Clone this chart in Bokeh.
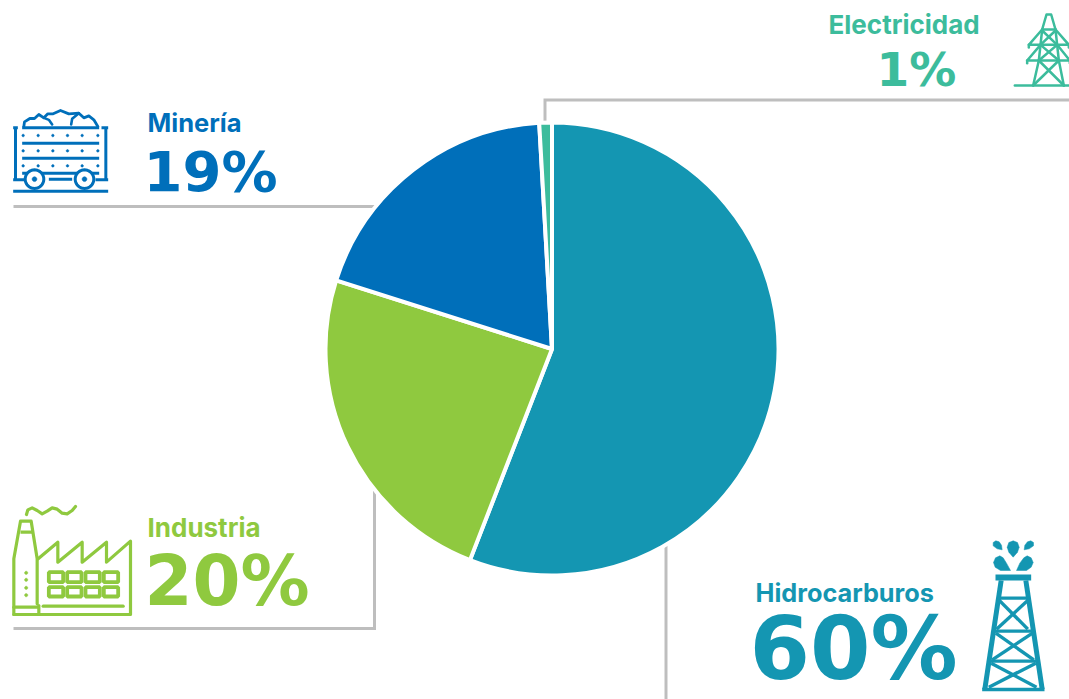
import math
from bokeh.plotting import figure
from bokeh.embed import file_html
from bokeh.resources import INLINE
from bokeh.core.properties import value
from bokeh.models import ColumnDataSource

W, H = 1069, 699

# Wedge sizes as drawn in the picture (the printed labels differ from the drawn slices)
sectors = ["Hidrocarburos", "Industria", "Minería", "Electricidad"]
drawn_share = [55.9, 24.0, 19.2, 0.9]
labels = ["60%", "20%", "19%", "1%"]
colors = ["#1496B2", "#8FC93F", "#006FBA", "#3CBC9C"]
GRAY = "#BEBEBE"
HYD, IND, MIN, ELE = colors

p = figure(width=W, height=H, x_range=(0, W), y_range=(H, 0), output_backend="svg",
           toolbar_location=None, min_border=0, outline_line_color=None)
p.axis.visible = False
p.grid.visible = False
p.background_fill_color = "white"
p.border_fill_color = "white"

# Pie: clockwise from twelve o'clock
CX, CY, R = 551.5, 348.5, 226.5
total = sum(drawn_share)
cum = 0.0
starts, ends = [], []
for v in drawn_share:
    starts.append(math.pi / 2 - 2 * math.pi * cum / total)
    cum += v
    ends.append(math.pi / 2 - 2 * math.pi * cum / total)

# Leader lines
def line(pts, color=GRAY, w=3.0, cap="butt", join="miter"):
    p.line([a for a, _ in pts], [b for _, b in pts], line_color=color, line_width=w,
           line_cap=cap, line_join=join)

line([(1069, 99.5), (544.5, 99.5), (544.5, 128)])
line([(13, 206), (378, 206)])
line([(374, 490), (374, 628), (13, 628)])
line([(665.5, 540), (665.5, 699)])

src = ColumnDataSource(dict(x=[CX] * 4, y=[CY] * 4, s=starts, e=ends, c=colors))
p.wedge(x="x", y="y", radius=R, start_angle="s", end_angle="e", direction="clock",
        fill_color="c", line_color="white", line_width=4, source=src)

# Labels
def text(x, y, s, size, color, font="Inter", k=0.39):
    p.text([x], [y - k * size], text=[s], text_font=value(font), text_font_style="bold",
           text_font_size=f"{size}px", text_color=color, text_align="left",
           text_baseline="alphabetic")

text(147, 132, "Minería", 25.5, MIN)
text(147, 537, "Industria", 26, IND)
text(755, 602, "Hidrocarburos", 25.3, HYD)
text(828, 34, "Electricidad", 26, ELE)
NUM = "DejaVu Sans"
text(143, 193, labels[2], 56, MIN, NUM)
text(144, 607, labels[1], 69, IND, NUM)
text(749, 682, labels[0], 87, HYD, NUM)
text(876, 87, labels[3], 47, ELE, NUM)

# ---- Icons: decoration traced in page pixels ----
def z(pts, ox, oy):
    return [(ox + a / 3, oy + b / 3) for a, b in pts]

def circle(x, y, r, fill, color, w=2.0):
    t = [2 * math.pi * i / 40 for i in range(41)]
    p.patch([x + r * math.cos(a) for a in t], [y + r * math.sin(a) for a in t],
            fill_color=fill, line_color=color, line_width=w)

# Mine cart
ox, oy = 0, 90
for seg in [[(38, 302), (323, 302)], [(45, 110), (45, 268)], [(38, 112), (52, 112)], [(38, 268), (72, 268)],
            [(316, 110), (316, 268)], [(303, 112), (323, 112)], [(285, 268), (323, 268)],
            [(65, 112), (296, 112)], [(65, 158), (296, 158)], [(65, 203), (296, 203)],
            [(65, 248), (85, 248)], [(120, 248), (235, 248)], [(270, 248), (296, 248)],
            [(145, 266), (215, 266)]]:
    line(z(seg, ox, oy), MIN, 3.0)
line(z([(70, 108), (72, 94), (88, 84), (102, 84), (115, 72), (130, 82), (142, 70), (158, 70), (180, 60),
        (205, 70), (235, 68), (250, 82), (265, 76), (280, 88), (292, 108)], ox, oy), MIN, 2.8, "round", "round")
line(z([(130, 82), (145, 88), (155, 102)], ox, oy), MIN, 2.6, "round", "round")
line(z([(235, 68), (215, 85), (212, 102)], ox, oy), MIN, 2.6, "round", "round")
for yy in (135, 181, 226):
    for xx in (68, 113, 157, 201, 245, 292):
        (a, b), = z([(xx, yy)], ox, oy)
        circle(a, b, 1.3, MIN, MIN, 0.5)
for xx in (102, 252):
    (a, b), = z([(xx, 266)], ox, oy)
    circle(a, b, 9.3, "white", MIN, 3.0)
    circle(a, b, 2.4, MIN, MIN, 0.5)

# Factory
ox, oy = 0, 490
line(z([(40, 372), (390, 372), (390, 152), (318, 215), (318, 155), (245, 215), (245, 155), (172, 215),
        (172, 155), (113, 205)], ox, oy), IND, 3.2, "round", "round")
line(z([(110, 340), (110, 205), (92, 92), (60, 92), (40, 205), (40, 372)], ox, oy), IND, 3.2, "round", "round")
line(z([(60, 125), (97, 125)], ox, oy), IND, 3.2)
line(z([(78, 72), (82, 58), (95, 52), (110, 60), (125, 70), (140, 62), (155, 52), (170, 56), (185, 68), (200, 70),
        (215, 60), (225, 48)], ox, oy), IND, 3.2, "round", "round")
for yy in (247, 268, 292, 314):
    (a, b), = z([(77, yy)], ox, oy)
    circle(a, b, 1.6, IND, IND, 0.5)
for seg in [[(128, 347), (368, 347)], [(40, 350), (110, 350)], [(115, 345), (115, 372)]]:
    line(z(seg, ox, oy), IND, 3.2, "round")
for y0, y1 in ((245, 275), (290, 318)):
    for x0, x1 in ((145, 188), (200, 243), (255, 298), (310, 353)):
        pts = z([(x0, y0), (x1, y0), (x1, y1), (x0, y1), (x0, y0)], ox, oy)
        p.patch([a for a, _ in pts], [b for _, b in pts], fill_color="white", line_color=IND, line_width=3.8)

# Derrick
ox, oy = 740, 530
pts = z([(765, 132), (872, 132), (872, 150), (765, 150)], ox, oy)
p.patch([a for a, _ in pts], [b for _, b in pts], fill_color=HYD, line_color=None)
for seg in [[(782, 150), (733, 476)], [(856, 150), (905, 476)]]:
    line(z(seg, ox, oy), HYD, 5.0)
for seg in [[(725, 477), (912, 477)],
            [(772, 203), (866, 203)], [(762, 302), (878, 302)], [(748, 392), (892, 392)],
            [(775, 208), (862, 296)], [(864, 208), (768, 296)],
            [(766, 308), (880, 388)], [(876, 308), (755, 388)],
            [(752, 398), (888, 470)], [(886, 398), (745, 470)]]:
    line(z(seg, ox, oy), HYD, 3.4)

def drop(pts):
    q = z(pts, ox, oy)
    p.patch([a for a, _ in q], [b for _, b in q], fill_color=HYD, line_color=HYD, line_width=0.5)

drop([(818, 80), (805, 65), (800, 50), (805, 36), (818, 31), (831, 36), (836, 50), (831, 65)])
drop([(785, 58), (770, 55), (758, 46), (758, 36), (766, 31), (776, 34), (783, 44)])
drop([(851, 58), (866, 55), (879, 46), (879, 36), (871, 31), (861, 34), (853, 44)])
drop([(810, 120), (780, 120), (764, 110), (759, 96), (765, 82), (778, 76), (788, 82), (798, 98)])
drop([(828, 120), (858, 120), (872, 110), (878, 96), (872, 82), (860, 76), (850, 82), (838, 98)])

# Pylon
ox, oy = 1010, 5
for seg in [[(13, 240), (176, 240)],
            [(95, 72), (108, 27), (122, 27), (135, 72)],
            [(95, 72), (135, 72)],
            [(95, 72), (55, 118), (175, 118), (135, 72)],
            [(90, 118), (50, 165), (178, 165), (140, 118)],
            [(55, 118), (55, 126)], [(175, 118), (175, 126)], [(50, 165), (50, 173)], [(178, 165), (178, 173)],
            [(95, 72), (85, 165), (68, 240)], [(135, 72), (145, 165), (160, 240)],
            [(95, 75), (140, 118)], [(135, 75), (90, 118)],
            [(90, 118), (145, 165)], [(140, 118), (85, 165)],
            [(85, 165), (160, 240)], [(145, 165), (68, 240)]]:
    line(z(seg, ox, oy), ELE, 2.5, "round", "round")

open("out.html", "w").write(file_html(p, INLINE))
